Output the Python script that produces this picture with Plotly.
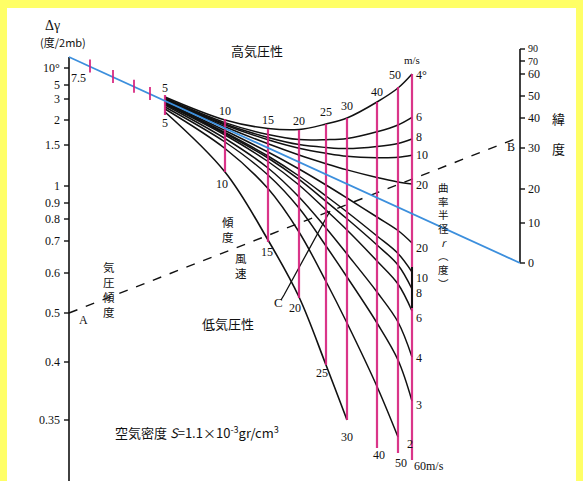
import plotly.graph_objects as go

W, H = 583, 481

# ---------------- data ----------------
# left scale: pressure-gradient Δγ (度/2mb)
dg_labels = ["10°", "5", "3", "2", "1.5", "1", "0.9", "0.8", "0.7", "0.6", "0.5", "0.4", "0.35"]
dg_pos = [68, 85, 99, 120, 145, 186, 203, 219, 241, 273, 313, 362, 420]

# right scale: latitude (度)
lat_labels = ["90", "70", "60", "50", "40", "30", "20", "10", "0"]
lat_pos = [49, 61, 74, 96, 118, 148, 189, 223, 263]

# gradient-wind speeds (m/s) and their verticals
speeds = [5, 10, 15, 20, 25, 30, 40, 50, 60]
speed_x = [165, 225, 268, 299, 326, 347, 377, 398, 412]
speed_top = [95, 119, 129, 130, 124, 118, 102, 87, 74]
speed_bottom = [115, 172, 242, 298, 365, 420, 448, 453, 460]

# anticyclonic curves (radius of curvature r in degrees), y at each speed_x
antic_r = [4, 6, 8, 10, 20]
antic_y = [
    [97, 120, 128.5, 129.5, 124, 118, 102, 88, 74],
    [98, 122.6, 134.5, 139.6, 139.7, 138.5, 131.8, 125, 117.4],
    [99, 124, 137.5, 144.6, 147.5, 148.6, 146.5, 143.5, 139],
    [99.5, 125, 139.8, 148.3, 153.3, 156.3, 157.7, 157.3, 155.2],
    [100, 126.7, 143.8, 155, 163.7, 169.9, 177.5, 181.9, 184],
]
# cyclonic curves
cyc_r = [20, 10, 8, 6, 4, 3, 2]
cyc_y = [
    [102, 130.5, 152, 169, 185, 198, 217, 230.5, 243],
    [102.5, 132.5, 156, 176, 196, 212, 236, 253.5, 272],
    [103, 133.5, 158, 179.4, 201.3, 218.8, 245, 265, 289],
    [104, 135, 161.5, 185, 210, 230, 261, 284, 311],
    [105, 138.5, 168, 197, 228, 254, 292, 322, 357],
    [107, 142, 175, 208, 246, 277, 323, 360, 401],
    [109, 148.5, 188.6, 232, 281.5, 323, 386.5, 437],
]
# limiting curve (speeds 5..30)
limit_y = [112, 172, 240, 297, 365, 420]

# geostrophic (blue) line and example construction
geo_x = [69, 520]
geo_y = [57, 263]
geo_ticks_x = [90, 113, 134, 150]
ab_x = [69, 520]
ab_y = [313, 137]
c_x = [281, 284, 330]
c_y = [300, 295, 211]

MAG = "#D61F7C"
BLK = "#111111"
SERIF = "Liberation Serif"
CJK = "Noto Sans CJK JP"

fig = go.Figure()


def line(x, y, color=BLK, width=1.5, dash=None, shape="linear", opacity=1.0):
    fig.add_trace(go.Scatter(x=x, y=y, mode="lines", hoverinfo="skip",
                             opacity=opacity,
                             line=dict(color=color, width=width, dash=dash, shape=shape, smoothing=1.0)))


# left axis and ticks
line([69, 69], [57, H], BLK, 1.6)
tx, ty = [], []
for p in dg_pos:
    tx += [64, 69, None]
    ty += [p, p, None]
line(tx, ty, BLK, 1.4)

# right axis (latitude)
line([520, 520], [49, 263], BLK, 1.6)
rx, ry = [], []
for p in lat_pos:
    rx += [520, 525, None]
    ry += [p, p, None]
line(rx, ry, BLK, 1.4)

# dashed A-B line
line(ab_x, ab_y, BLK, 1.4, dash="dash")

# black curves
for ys in antic_y:
    line(speed_x[:len(ys)], ys, BLK, 1.5, shape="spline")
for ys in cyc_y:
    line(speed_x[:len(ys)], ys, BLK, 1.5, shape="spline")
line(speed_x[:len(limit_y)], limit_y, BLK, 1.6, shape="spline")
line(c_x, c_y, BLK, 1.3)

# magenta speed verticals
for x, t, b in zip(speed_x, speed_top, speed_bottom):
    line([x, x], [t, b], MAG, 2.2, opacity=0.9)
line([412, 412], [267, 308], BLK, 2.0)

# blue geostrophic line and its small speed ticks
line(geo_x, geo_y, "#3C8FDD", 1.8)
slope = (geo_y[1] - geo_y[0]) / (geo_x[1] - geo_x[0])
gx, gy = [], []
for x in geo_ticks_x:
    yc = geo_y[0] + slope * (x - geo_x[0])
    gx += [x, x, None]
    gy += [yc - 7, yc + 6, None]
line(gx, gy, MAG, 2.0, opacity=0.85)

ann = []


def txt(x, y, s, size=12, family=SERIF, xanchor="center", color="#111111"):
    ann.append(dict(x=x, y=y, text=s, showarrow=False, xref="x", yref="y",
                    xanchor=xanchor, yanchor="middle",
                    font=dict(family=family, size=size, color=color)))


# left scale labels
for lab, p in zip(dg_labels, dg_pos):
    txt(62, p, lab, 12, xanchor="right")
txt(52, 25, "Δγ", 14)
txt(63, 42, "(度/2mb)", 11, family=CJK)

# right scale labels (the two crowded top ones share one text block)
txt(526, (lat_pos[0] + lat_pos[1]) / 2, lat_labels[0] + "<br>" + lat_labels[1], 10, xanchor="left")
for lab, p in zip(lat_labels[2:], lat_pos[2:]):
    txt(526, p, lab, 12, xanchor="left")
txt(558, 118, "緯", 13, family=CJK)
txt(558, 148, "度", 13, family=CJK)

# speed labels top / bottom
top_lab_y = [88, 111, 120, 121, 112, 106, 92, 75]
for s, x, y in zip(speeds[:8], speed_x[:8], top_lab_y):
    txt(x - (3 if s == 50 else 0), y, str(s), 12)
bot_lab_y = [123, 184, 252, 308, 373, 437, 455, 463]
bot_lab_dx = [0, -3, -1, -4, -4, 0, 2, 3]
for s, x, y, dx in zip(speeds[:8], speed_x[:8], bot_lab_y, bot_lab_dx):
    txt(x + dx, y, str(s), 12)
txt(412, 466, "60m/s", 12, xanchor="left")
txt(412, 60, "m/s", 11)
txt(414, 75, "4°", 12, xanchor="left")

# radius labels at right end
r_lab = ["6", "8", "10", "20", "20", "10", "8", "6", "4", "3"]
r_lab_y = [117, 137, 155, 185, 248, 278, 293, 318, 358, 405]
for s, y in zip(r_lab, r_lab_y):
    txt(414, y, s, 12, xanchor="left")
txt(405, 444, "2", 12, xanchor="left")
txt(78, 78, "7.5", 12)

txt(83, 320, "A", 12)
txt(511, 147, "B", 12)
txt(278, 302, "C", 13)

# Japanese captions
txt(257, 50, "高気圧性", 13, family=CJK)
txt(228, 323, "低気圧性", 13, family=CJK)
txt(113, 432, "空気密度 <i>S</i>=1.1×10<sup>-3</sup>gr/cm<sup>3</sup>", 13, family=CJK, xanchor="left")

txt(109, 289.5, "気<br>圧<br>傾<br>度", 11.5, family=CJK)
txt(228, 229.5, "傾<br>度", 11.5, family=CJK)
txt(241, 265, "風<br>速", 11.5, family=CJK)
txt(443, 235, "曲<br>率<br>半<br>径<br><i>r</i><br>︵<br>度<br>︶", 10.5, family=CJK)

fig.update_layout(
    width=W, height=H,
    margin=dict(l=0, r=0, t=0, b=0),
    paper_bgcolor="#FFFF66",
    plot_bgcolor="#FFFF66",
    showlegend=False,
    xaxis=dict(range=[0, W], visible=False, fixedrange=True),
    yaxis=dict(range=[H, 0], visible=False, fixedrange=True),
    annotations=ann,
    shapes=[dict(type="rect", xref="x", yref="y", x0=7, x1=576, y0=8, y1=H + 2,
                 fillcolor="white", line=dict(width=0), layer="below")],
)

fig.write_html(
    "out.html",
    config={"displayModeBar": False, "staticPlot": True},
    post_script="document.body.style.margin='0';document.body.style.padding='0';"
                "document.body.style.background='#FFFF66';"
                "document.documentElement.style.overflow='hidden';",
)
